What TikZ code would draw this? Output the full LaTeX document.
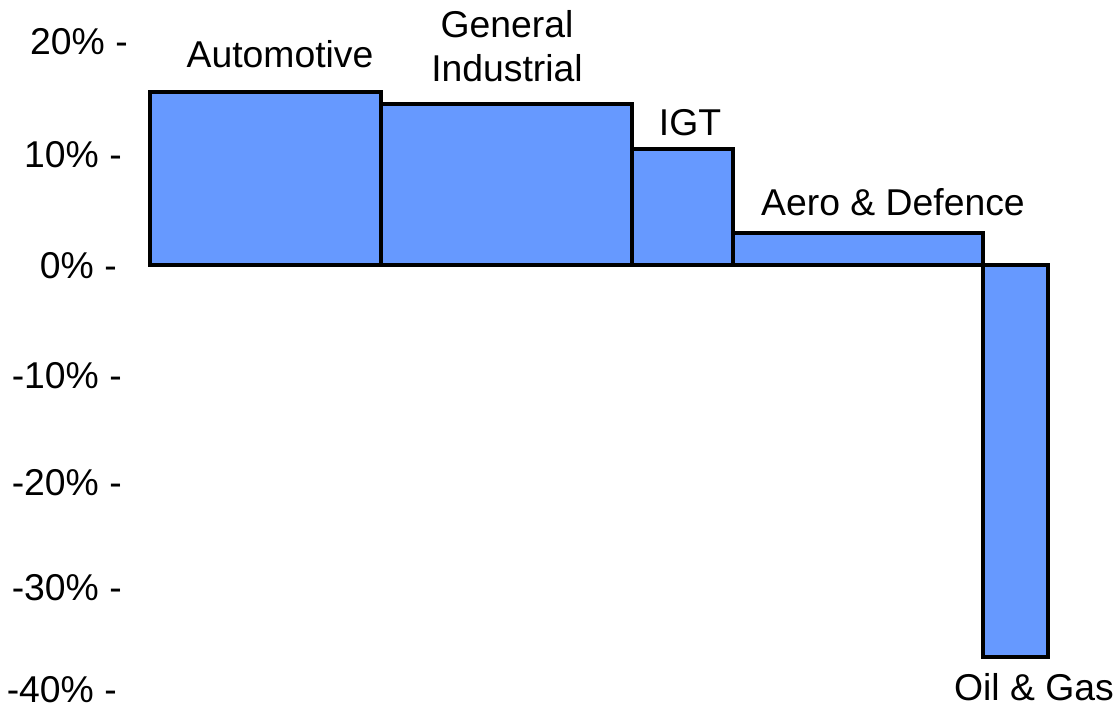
\documentclass[tikz,border=0pt]{standalone}
\usepackage{fontspec}
\setmainfont{Liberation Sans}
\definecolor{barblue}{RGB}{102,153,255}
\tikzset{
  bar/.style={draw=black, fill=barblue, line width=3pt, line join=miter},
  lbl/.style={anchor=base, inner sep=0pt, font=\fontsize{28}{34}\selectfont},
  ylbl/.style={anchor=base east, inner sep=0pt, font=\fontsize{28}{34}\selectfont}
}
\begin{document}
\begin{tikzpicture}[x=0.75pt, y=-0.75pt]
  \useasboundingbox (0,0) rectangle (1116,710);

  % Axis labels
  \foreach \val/\xr/\yb [count=\i] in {20\%/128/55, 10\%/122/167, 0\%/117/278,
      -10\%/122/388, -20\%/122/495, -30\%/122/600, -40\%/117/702} {
    \node[ylbl] (tick\i) at (\xr,\yb) {\val{} -};
  }

  % Bars (width = share, height = growth)
  \draw[bar] (150,265) rectangle (381,92);
  \draw[bar] (381,265) rectangle (632,104);
  \draw[bar] (632,265) rectangle (733,149);
  \draw[bar] (733,265) rectangle (983,233);
  \draw[bar] (983,265) rectangle (1048,657);

  % Sector names
  \node[lbl] (auto) at (280,68) {Automotive};
  \node[lbl] (gen) at (507,38) {General};
  \node[lbl] (ind) at (507,82) {Industrial};
  \node[lbl] (igt) at (690,135) {IGT};
  \node[lbl] (aero) at (893,215) {Aero \& Defence};
  \node[lbl] (oil) at (1034,700) {Oil \& Gas};
\end{tikzpicture}
\end{document}
